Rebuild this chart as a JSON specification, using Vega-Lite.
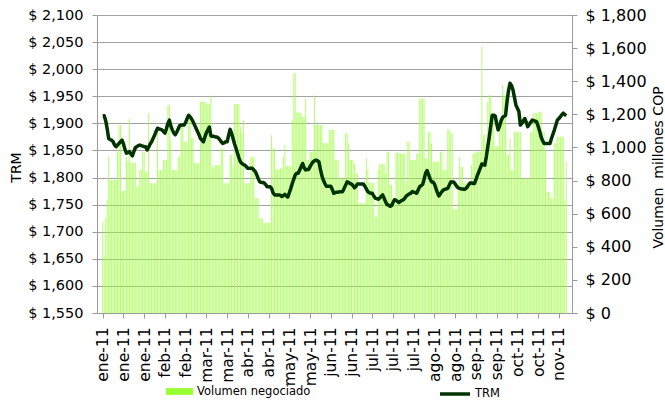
{
"$schema":"https://vega.github.io/schema/vega-lite/v6.json",
"width":475,"height":298,
"autosize":{"type":"none"},
"padding":{"left":97,"top":15,"right":93,"bottom":87},
"background":"white",
"config":{"view":{"stroke":null},"font":"DejaVu Sans",
 "axis":{"labelFont":"DejaVu Sans","titleFont":"DejaVu Sans","labelColor":"#000","titleColor":"#000","domainColor":"#9a9a9a","tickColor":"#9a9a9a","gridColor":"#a3a3a3","gridWidth":1,"titleFontWeight":"normal"},
 "legend":{"labelFont":"DejaVu Sans","labelColor":"#000"}},
"data":{"values":[
{"d":"2011-01-01","t":1914,"v":551},{"d":"2011-01-02","t":1914,"v":340},{"d":"2011-01-03","t":1905,"v":575},{"d":"2011-01-04","t":1890,"v":683},{"d":"2011-01-05","t":1872,"v":944},{"d":"2011-01-06","t":1870,"v":803},{"d":"2011-01-07","t":1869,"v":803},{"d":"2011-01-08","t":1866,"v":803},{"d":"2011-01-09","t":1860,"v":803},{"d":"2011-01-10","t":1857,"v":803},{"d":"2011-01-11","t":1860,"v":974},{"d":"2011-01-12","t":1863,"v":1136},{"d":"2011-01-13","t":1866,"v":1136},{"d":"2011-01-14","t":1869,"v":737},{"d":"2011-01-15","t":1862,"v":737},{"d":"2011-01-16","t":1852,"v":737},{"d":"2011-01-17","t":1845,"v":944},{"d":"2011-01-18","t":1846,"v":914},{"d":"2011-01-19","t":1848,"v":1172},{"d":"2011-01-20","t":1844,"v":908},{"d":"2011-01-21","t":1840,"v":908},{"d":"2011-01-22","t":1848,"v":908},{"d":"2011-01-23","t":1855,"v":908},{"d":"2011-01-24","t":1857,"v":763},{"d":"2011-01-25","t":1859,"v":763},{"d":"2011-01-26","t":1860,"v":864},{"d":"2011-01-27","t":1859,"v":864},{"d":"2011-01-28","t":1858,"v":974},{"d":"2011-01-29","t":1857,"v":974},{"d":"2011-01-30","t":1857,"v":854},{"d":"2011-01-31","t":1851,"v":854},
{"d":"2011-02-01","t":1856,"v":1206},{"d":"2011-02-02","t":1862,"v":783},{"d":"2011-02-03","t":1866,"v":783},{"d":"2011-02-04","t":1872,"v":783},{"d":"2011-02-05","t":1878,"v":783},{"d":"2011-02-06","t":1885,"v":783},{"d":"2011-02-07","t":1891,"v":1125},{"d":"2011-02-08","t":1890,"v":864},{"d":"2011-02-09","t":1889,"v":864},{"d":"2011-02-10","t":1888,"v":864},{"d":"2011-02-11","t":1885,"v":924},{"d":"2011-02-12","t":1882,"v":924},{"d":"2011-02-13","t":1890,"v":924},{"d":"2011-02-14","t":1900,"v":1256},{"d":"2011-02-15","t":1906,"v":1256},{"d":"2011-02-16","t":1895,"v":1045},{"d":"2011-02-17","t":1888,"v":864},{"d":"2011-02-18","t":1882,"v":864},{"d":"2011-02-19","t":1879,"v":864},{"d":"2011-02-20","t":1884,"v":864},{"d":"2011-02-21","t":1890,"v":944},{"d":"2011-02-22","t":1896,"v":944},{"d":"2011-02-23","t":1897,"v":1145},{"d":"2011-02-24","t":1897,"v":1145},{"d":"2011-02-25","t":1897,"v":1035},{"d":"2011-02-26","t":1902,"v":1035},{"d":"2011-02-27","t":1909,"v":1035},{"d":"2011-02-28","t":1915,"v":1196},
{"d":"2011-03-01","t":1912,"v":1196},{"d":"2011-03-02","t":1908,"v":1055},{"d":"2011-03-03","t":1903,"v":1055},{"d":"2011-03-04","t":1897,"v":904},{"d":"2011-03-05","t":1891,"v":904},{"d":"2011-03-06","t":1885,"v":904},{"d":"2011-03-07","t":1879,"v":904},{"d":"2011-03-08","t":1872,"v":1276},{"d":"2011-03-09","t":1869,"v":1276},{"d":"2011-03-10","t":1866,"v":1276},{"d":"2011-03-11","t":1875,"v":1276},{"d":"2011-03-12","t":1883,"v":1266},{"d":"2011-03-13","t":1888,"v":1266},{"d":"2011-03-14","t":1893,"v":1266},{"d":"2011-03-15","t":1877,"v":1316},{"d":"2011-03-16","t":1876,"v":884},{"d":"2011-03-17","t":1876,"v":884},{"d":"2011-03-18","t":1875,"v":894},{"d":"2011-03-19","t":1875,"v":894},{"d":"2011-03-20","t":1873,"v":894},{"d":"2011-03-21","t":1870,"v":894},{"d":"2011-03-22","t":1866,"v":994},{"d":"2011-03-23","t":1863,"v":994},{"d":"2011-03-24","t":1864,"v":783},{"d":"2011-03-25","t":1866,"v":783},{"d":"2011-03-26","t":1866,"v":783},{"d":"2011-03-27","t":1878,"v":783},{"d":"2011-03-28","t":1889,"v":954},{"d":"2011-03-29","t":1882,"v":954},{"d":"2011-03-30","t":1872,"v":884},{"d":"2011-03-31","t":1862,"v":1262},
{"d":"2011-04-01","t":1854,"v":1262},{"d":"2011-04-02","t":1845,"v":1262},{"d":"2011-04-03","t":1836,"v":1262},{"d":"2011-04-04","t":1829,"v":1125},{"d":"2011-04-05","t":1826,"v":1085},{"d":"2011-04-06","t":1824,"v":1166},{"d":"2011-04-07","t":1823,"v":783},{"d":"2011-04-08","t":1820,"v":783},{"d":"2011-04-09","t":1817,"v":783},{"d":"2011-04-10","t":1817,"v":783},{"d":"2011-04-11","t":1817,"v":944},{"d":"2011-04-12","t":1817,"v":944},{"d":"2011-04-13","t":1814,"v":944},{"d":"2011-04-14","t":1811,"v":693},{"d":"2011-04-15","t":1805,"v":693},{"d":"2011-04-16","t":1798,"v":693},{"d":"2011-04-17","t":1792,"v":571},{"d":"2011-04-18","t":1791,"v":571},{"d":"2011-04-19","t":1791,"v":571},{"d":"2011-04-20","t":1790,"v":545},{"d":"2011-04-21","t":1787,"v":545},{"d":"2011-04-22","t":1783,"v":545},{"d":"2011-04-23","t":1783,"v":545},{"d":"2011-04-24","t":1783,"v":545},{"d":"2011-04-25","t":1780,"v":1075},{"d":"2011-04-26","t":1772,"v":994},{"d":"2011-04-27","t":1768,"v":994},{"d":"2011-04-28","t":1768,"v":867},{"d":"2011-04-29","t":1768,"v":867},{"d":"2011-04-30","t":1768,"v":867},
{"d":"2011-05-01","t":1767,"v":874},{"d":"2011-05-02","t":1765,"v":874},{"d":"2011-05-03","t":1767,"v":944},{"d":"2011-05-04","t":1769,"v":1015},{"d":"2011-05-05","t":1766,"v":888},{"d":"2011-05-06","t":1764,"v":888},{"d":"2011-05-07","t":1772,"v":888},{"d":"2011-05-08","t":1780,"v":888},{"d":"2011-05-09","t":1789,"v":1166},{"d":"2011-05-10","t":1797,"v":1448},{"d":"2011-05-11","t":1805,"v":1448},{"d":"2011-05-12","t":1808,"v":1210},{"d":"2011-05-13","t":1808,"v":1210},{"d":"2011-05-14","t":1814,"v":1210},{"d":"2011-05-15","t":1820,"v":1210},{"d":"2011-05-16","t":1826,"v":1186},{"d":"2011-05-17","t":1818,"v":1186},{"d":"2011-05-18","t":1814,"v":1296},{"d":"2011-05-19","t":1815,"v":924},{"d":"2011-05-20","t":1815,"v":924},{"d":"2011-05-21","t":1820,"v":974},{"d":"2011-05-22","t":1825,"v":974},{"d":"2011-05-23","t":1829,"v":974},{"d":"2011-05-24","t":1831,"v":1316},{"d":"2011-05-25","t":1832,"v":1136},{"d":"2011-05-26","t":1831,"v":1136},{"d":"2011-05-27","t":1829,"v":1136},{"d":"2011-05-28","t":1815,"v":1136},{"d":"2011-05-29","t":1803,"v":1136},{"d":"2011-05-30","t":1795,"v":1025},{"d":"2011-05-31","t":1789,"v":1025},
{"d":"2011-06-01","t":1784,"v":1025},{"d":"2011-06-02","t":1784,"v":1025},{"d":"2011-06-03","t":1784,"v":1105},{"d":"2011-06-04","t":1784,"v":1105},{"d":"2011-06-05","t":1778,"v":1105},{"d":"2011-06-06","t":1771,"v":1105},{"d":"2011-06-07","t":1772,"v":924},{"d":"2011-06-08","t":1773,"v":924},{"d":"2011-06-09","t":1773,"v":924},{"d":"2011-06-10","t":1774,"v":814},{"d":"2011-06-11","t":1774,"v":814},{"d":"2011-06-12","t":1774,"v":814},{"d":"2011-06-13","t":1780,"v":814},{"d":"2011-06-14","t":1786,"v":1085},{"d":"2011-06-15","t":1792,"v":1085},{"d":"2011-06-16","t":1791,"v":1025},{"d":"2011-06-17","t":1789,"v":924},{"d":"2011-06-18","t":1788,"v":924},{"d":"2011-06-19","t":1785,"v":924},{"d":"2011-06-20","t":1781,"v":900},{"d":"2011-06-21","t":1784,"v":844},{"d":"2011-06-22","t":1788,"v":844},{"d":"2011-06-23","t":1788,"v":663},{"d":"2011-06-24","t":1788,"v":663},{"d":"2011-06-25","t":1788,"v":663},{"d":"2011-06-26","t":1788,"v":663},{"d":"2011-06-27","t":1784,"v":663},{"d":"2011-06-28","t":1779,"v":934},{"d":"2011-06-29","t":1774,"v":867},{"d":"2011-06-30","t":1772,"v":787},
{"d":"2011-07-01","t":1771,"v":787},{"d":"2011-07-02","t":1771,"v":787},{"d":"2011-07-03","t":1766,"v":787},{"d":"2011-07-04","t":1762,"v":582},{"d":"2011-07-05","t":1761,"v":582},{"d":"2011-07-06","t":1760,"v":864},{"d":"2011-07-07","t":1762,"v":900},{"d":"2011-07-08","t":1765,"v":900},{"d":"2011-07-09","t":1768,"v":900},{"d":"2011-07-10","t":1762,"v":900},{"d":"2011-07-11","t":1755,"v":844},{"d":"2011-07-12","t":1750,"v":974},{"d":"2011-07-13","t":1749,"v":974},{"d":"2011-07-14","t":1747,"v":773},{"d":"2011-07-15","t":1748,"v":773},{"d":"2011-07-16","t":1754,"v":663},{"d":"2011-07-17","t":1759,"v":663},{"d":"2011-07-18","t":1758,"v":968},{"d":"2011-07-19","t":1756,"v":968},{"d":"2011-07-20","t":1754,"v":968},{"d":"2011-07-21","t":1756,"v":964},{"d":"2011-07-22","t":1758,"v":964},{"d":"2011-07-23","t":1759,"v":964},{"d":"2011-07-24","t":1762,"v":964},{"d":"2011-07-25","t":1766,"v":793},{"d":"2011-07-26","t":1768,"v":1035},{"d":"2011-07-27","t":1770,"v":1035},{"d":"2011-07-28","t":1771,"v":924},{"d":"2011-07-29","t":1774,"v":924},{"d":"2011-07-30","t":1773,"v":924},{"d":"2011-07-31","t":1772,"v":924},
{"d":"2011-08-01","t":1771,"v":964},{"d":"2011-08-02","t":1777,"v":964},{"d":"2011-08-03","t":1783,"v":1296},{"d":"2011-08-04","t":1785,"v":1296},{"d":"2011-08-05","t":1787,"v":1296},{"d":"2011-08-06","t":1797,"v":1296},{"d":"2011-08-07","t":1808,"v":934},{"d":"2011-08-08","t":1813,"v":934},{"d":"2011-08-09","t":1806,"v":1095},{"d":"2011-08-10","t":1798,"v":1095},{"d":"2011-08-11","t":1792,"v":1025},{"d":"2011-08-12","t":1792,"v":914},{"d":"2011-08-13","t":1788,"v":914},{"d":"2011-08-14","t":1780,"v":914},{"d":"2011-08-15","t":1772,"v":914},{"d":"2011-08-16","t":1766,"v":914},{"d":"2011-08-17","t":1770,"v":974},{"d":"2011-08-18","t":1774,"v":974},{"d":"2011-08-19","t":1777,"v":864},{"d":"2011-08-20","t":1778,"v":864},{"d":"2011-08-21","t":1779,"v":864},{"d":"2011-08-22","t":1780,"v":1109},{"d":"2011-08-23","t":1786,"v":1109},{"d":"2011-08-24","t":1792,"v":1085},{"d":"2011-08-25","t":1792,"v":1085},{"d":"2011-08-26","t":1792,"v":627},{"d":"2011-08-27","t":1788,"v":627},{"d":"2011-08-28","t":1784,"v":627},{"d":"2011-08-29","t":1781,"v":773},{"d":"2011-08-30","t":1780,"v":944},{"d":"2011-08-31","t":1779,"v":884},
{"d":"2011-09-01","t":1779,"v":884},{"d":"2011-09-02","t":1778,"v":783},{"d":"2011-09-03","t":1779,"v":783},{"d":"2011-09-04","t":1782,"v":783},{"d":"2011-09-05","t":1786,"v":783},{"d":"2011-09-06","t":1790,"v":783},{"d":"2011-09-07","t":1790,"v":894},{"d":"2011-09-08","t":1789,"v":964},{"d":"2011-09-09","t":1789,"v":964},{"d":"2011-09-10","t":1796,"v":974},{"d":"2011-09-11","t":1804,"v":974},{"d":"2011-09-12","t":1811,"v":974},{"d":"2011-09-13","t":1818,"v":974},{"d":"2011-09-14","t":1825,"v":1609},{"d":"2011-09-15","t":1824,"v":1075},{"d":"2011-09-16","t":1823,"v":1075},{"d":"2011-09-17","t":1838,"v":1015},{"d":"2011-09-18","t":1857,"v":1276},{"d":"2011-09-19","t":1875,"v":1316},{"d":"2011-09-20","t":1895,"v":1316},{"d":"2011-09-21","t":1915,"v":1206},{"d":"2011-09-22","t":1915,"v":1206},{"d":"2011-09-23","t":1914,"v":1005},{"d":"2011-09-24","t":1900,"v":1005},{"d":"2011-09-25","t":1888,"v":1005},{"d":"2011-09-26","t":1895,"v":1125},{"d":"2011-09-27","t":1905,"v":1125},{"d":"2011-09-28","t":1911,"v":1377},{"d":"2011-09-29","t":1913,"v":1316},{"d":"2011-09-30","t":1915,"v":1316},
{"d":"2011-10-01","t":1940,"v":954},{"d":"2011-10-02","t":1960,"v":954},{"d":"2011-10-03","t":1974,"v":1055},{"d":"2011-10-04","t":1970,"v":864},{"d":"2011-10-05","t":1962,"v":864},{"d":"2011-10-06","t":1948,"v":1095},{"d":"2011-10-07","t":1934,"v":1095},{"d":"2011-10-08","t":1928,"v":1095},{"d":"2011-10-09","t":1922,"v":1095},{"d":"2011-10-10","t":1897,"v":1095},{"d":"2011-10-11","t":1900,"v":814},{"d":"2011-10-12","t":1905,"v":814},{"d":"2011-10-13","t":1909,"v":814},{"d":"2011-10-14","t":1902,"v":814},{"d":"2011-10-15","t":1894,"v":814},{"d":"2011-10-16","t":1898,"v":814},{"d":"2011-10-17","t":1902,"v":1095},{"d":"2011-10-18","t":1906,"v":1095},{"d":"2011-10-19","t":1905,"v":1206},{"d":"2011-10-20","t":1904,"v":1206},{"d":"2011-10-21","t":1903,"v":1206},{"d":"2011-10-22","t":1895,"v":1206},{"d":"2011-10-23","t":1886,"v":1216},{"d":"2011-10-24","t":1875,"v":1216},{"d":"2011-10-25","t":1868,"v":1095},{"d":"2011-10-26","t":1863,"v":1095},{"d":"2011-10-27","t":1863,"v":984},{"d":"2011-10-28","t":1863,"v":733},{"d":"2011-10-29","t":1863,"v":733},{"d":"2011-10-30","t":1863,"v":733},{"d":"2011-10-31","t":1872,"v":693},
{"d":"2011-11-01","t":1880,"v":693},{"d":"2011-11-02","t":1888,"v":1025},{"d":"2011-11-03","t":1897,"v":1025},{"d":"2011-11-04","t":1906,"v":1065},{"d":"2011-11-05","t":1909,"v":1065},{"d":"2011-11-06","t":1912,"v":1065},{"d":"2011-11-07","t":1916,"v":1065},{"d":"2011-11-08","t":1919,"v":1065},{"d":"2011-11-09","t":1916,"v":683},{"d":"2011-11-10","t":1914,"v":914}
]},
"encoding":{
  "x":{"field":"d","type":"temporal",
   "scale":{"type":"utc","domain":[{"year":2010,"month":12,"date":31,"hours":12,"utc":true},{"year":2011,"month":11,"date":10,"hours":12,"utc":true}]},
   "axis":{"title":null,"grid":false,"tickSize":5,"labelPadding":9,"labelAngle":270,"labelAlign":"right","labelBaseline":"middle","labelFontSize":15.5,"labelFlush":false,"labelOverlap":false,"labelBound":false,"labelSeparation":0,
    "values":[{"year":2011,"month":1,"date":1,"utc":true},{"year":2011,"month":1,"date":15,"utc":true},{"year":2011,"month":1,"date":29,"utc":true},{"year":2011,"month":2,"date":12,"utc":true},{"year":2011,"month":2,"date":26,"utc":true},{"year":2011,"month":3,"date":12,"utc":true},{"year":2011,"month":3,"date":26,"utc":true},{"year":2011,"month":4,"date":9,"utc":true},{"year":2011,"month":4,"date":23,"utc":true},{"year":2011,"month":5,"date":7,"utc":true},{"year":2011,"month":5,"date":21,"utc":true},{"year":2011,"month":6,"date":4,"utc":true},{"year":2011,"month":6,"date":18,"utc":true},{"year":2011,"month":7,"date":2,"utc":true},{"year":2011,"month":7,"date":16,"utc":true},{"year":2011,"month":7,"date":30,"utc":true},{"year":2011,"month":8,"date":13,"utc":true},{"year":2011,"month":8,"date":27,"utc":true},{"year":2011,"month":9,"date":10,"utc":true},{"year":2011,"month":9,"date":24,"utc":true},{"year":2011,"month":10,"date":8,"utc":true},{"year":2011,"month":10,"date":22,"utc":true},{"year":2011,"month":11,"date":5,"utc":true}],
    "labelExpr":"['ene','feb','mar','abr','may','jun','jul','ago','sep','oct','nov','dic'][utcmonth(datum.value)] + '-11'"}}
},
"layer":[
{"mark":{"type":"bar","width":1,"opacity":0.7},
 "encoding":{
  "y":{"field":"v","type":"quantitative","scale":{"domain":[0,1800],"nice":false},
   "axis":{"orient":"right","values":[0,200,400,600,800,1000,1200,1400,1600,1800],"labelExpr":"'$ ' + format(datum.value, ',')","grid":false,"tickSize":5,"labelPadding":8,"labelFontSize":16,
    "title":"Volumen\u00a0 millones COP","titleFontSize":14,"titleAngle":270,"titleX":86,"titleY":152,"titleAlign":"center","titleBaseline":"middle"}},
  "fill":{"datum":"Volumen negociado","type":"nominal","scale":{"range":["#99ff33"]},
   "legend":{"orient":"none","legendX":69,"legendY":363,"title":null,"padding":0,"labelFontSize":11.5,"labelOffset":4,"symbolType":"M-1,-0.25H1V0.25H-1Z","symbolSize":729,"symbolStrokeWidth":0,"symbolOpacity":1}}
 }},
{"mark":{"type":"line","strokeWidth":3.5,"strokeJoin":"round"},
 "encoding":{
  "y":{"field":"t","type":"quantitative","scale":{"domain":[1550,2100],"nice":false,"zero":false},
   "axis":{"orient":"left","values":[1550,1600,1650,1700,1750,1800,1850,1900,1950,2000,2050,2100],"labelExpr":"'$ ' + format(datum.value, ',')","grid":true,"tickSize":5,"labelPadding":9,"labelFontSize":14.5,
    "title":"TRM","titleFontSize":14,"titleAngle":270,"titleX":-81,"titleY":152,"titleAlign":"center","titleBaseline":"middle"}},
  "stroke":{"datum":"TRM","type":"nominal","scale":{"range":["#003300"]},
   "legend":{"orient":"none","legendX":341,"legendY":362,"title":null,"padding":0,"labelFontSize":11.5,"labelOffset":3,"symbolType":"stroke","symbolSize":900,"symbolStrokeWidth":3.5,"symbolStrokeColor":"#003300"}}
 }}
],
"resolve":{"scale":{"y":"independent"}}
}
